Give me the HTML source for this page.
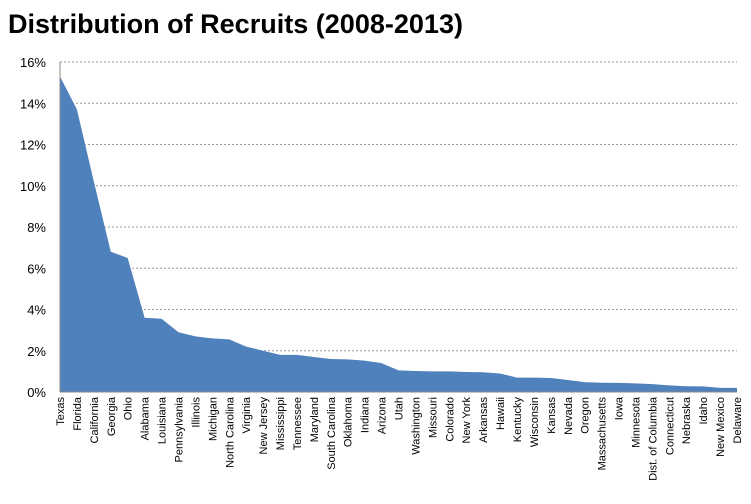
<!DOCTYPE html>
<html><head><meta charset="utf-8"><style>
body{margin:0;background:#fff;width:751px;height:499px;overflow:hidden}
</style></head><body>
<svg id="s" width="751" height="499" xmlns="http://www.w3.org/2000/svg" font-family="Liberation Sans, sans-serif">
<text x="8" y="33" font-size="27" font-weight="bold" fill="#000" textLength="455" lengthAdjust="spacingAndGlyphs">Distribution of Recruits (2008-2013)</text>
</svg>
<script>
var names=["Texas","Florida","California","Georgia","Ohio","Alabama","Louisiana","Pennsylvania","Illinois","Michigan","North Carolina","Virginia","New Jersey","Mississippi","Tennessee","Maryland","South Carolina","Oklahoma","Indiana","Arizona","Utah","Washington","Missouri","Colorado","New York","Arkansas","Hawaii","Kentucky","Wisconsin","Kansas","Nevada","Oregon","Massachusetts","Iowa","Minnesota","Dist. of Columbia","Connecticut","Nebraska","Idaho","New Mexico","Delaware"];
var v=[15.3,13.7,10.2,6.8,6.5,3.6,3.55,2.9,2.7,2.6,2.55,2.2,2.0,1.8,1.8,1.7,1.6,1.58,1.52,1.4,1.05,1.02,1.0,1.0,0.97,0.96,0.9,0.7,0.7,0.68,0.58,0.48,0.45,0.44,0.42,0.38,0.32,0.28,0.27,0.2,0.2];
var x0=60,x1=737,y0=392,k=20.625,n=names.length,dx=(x1-x0)/(n-1);
var h='';
for(var i=0;i<=8;i++){var y=y0-i*2*k;
 if(i>0)h+='<line x1="'+x0+'" x2="'+x1+'" y1="'+y+'" y2="'+y+'" stroke="#999" stroke-dasharray="2,2" stroke-width="1"/>';
 h+='<text x="46" y="'+(y+5)+'" font-size="13" text-anchor="end">'+(i*2)+'%</text>';}
var p='M'+x0+','+y0;
for(var i=0;i<n;i++)p+=' L'+(x0+i*dx)+','+(y0-v[i]*k);
p+=' L'+x1+','+y0+' Z';
h+='<path d="'+p+'" fill="#4f81bd"/>';
h+='<line x1="'+x0+'" x2="'+x1+'" y1="'+y0+'" y2="'+y0+'" stroke="#888"/>';
h+='<line x1="'+x0+'" x2="'+x0+'" y1="62" y2="'+y0+'" stroke="#888"/>';
for(var i=0;i<n;i++){var x=x0+i*dx+4;
 h+='<text transform="translate('+x+',397) rotate(-90)" font-size="11" text-anchor="end">'+names[i]+'</text>';}
document.getElementById('s').insertAdjacentHTML('beforeend',h);
</script>
</body></html>
